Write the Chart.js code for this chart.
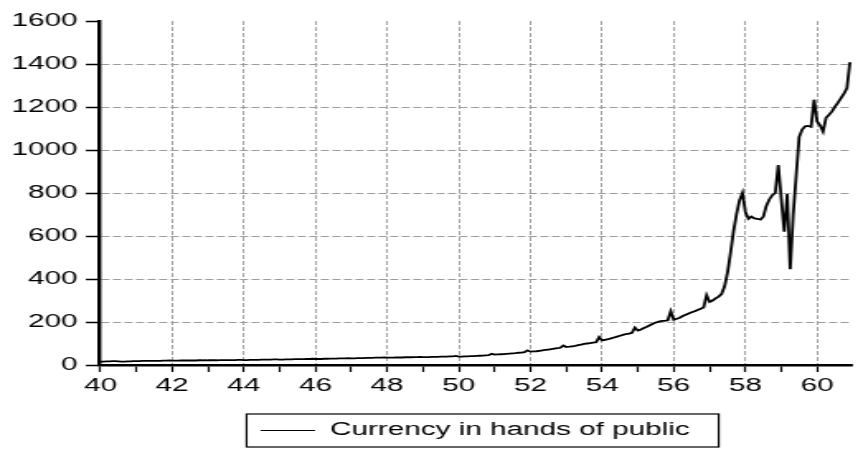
<!DOCTYPE html>
<html>
<head>
<meta charset="utf-8">
<script src="https://cdn.jsdelivr.net/npm/chart.js@4/dist/chart.umd.min.js"></script>
<style>
  html, body { margin: 0; padding: 0; background: #fff; overflow: hidden; }
  #wrap { width: 520px; height: 452px; transform: scaleX(1.65); transform-origin: 0 0; }
</style>
</head>
<body>
<div id="wrap"><canvas id="c" width="520" height="452"></canvas></div>
<script>
// Monthly observations, 1340M01 .. 1360M12
const seriesName = 'Currency in hands of public';
const firstYear = 40;
const currency = [
  16,16,17,17,18,18,17,16,16,17,17,18,            // 1340
  18,18,19,19,19,19,19,19,19,20,20,21,            // 1341
  20,20,20,21,21,21,21,21,21,22,22,23,            // 1342
  22,22,22,22,23,23,23,23,23,23,24,24,            // 1343
  23,23,24,24,24,24,25,25,25,25,26,26,            // 1344
  25,25,26,26,26,27,27,27,27,28,28,29,            // 1345
  28,28,28,29,29,30,30,30,31,31,31,32,            // 1346
  31,31,32,32,32,33,33,33,34,34,34,35,            // 1347
  34,34,34,35,35,35,36,36,36,37,37,38,            // 1348
  37,37,37,38,38,38,39,39,39,40,40,42,            // 1349
  39,39,40,40,41,41,42,43,44,45,46,52,            // 1350
  48,49,50,51,52,53,54,55,57,58,60,68,            // 1351
  62,63,64,66,68,70,72,74,76,78,80,91,            // 1352
  84,85,87,89,92,95,98,100,102,104,106,130,       // 1353
  114,117,120,124,128,132,136,140,144,146,150,174,// 1354
  160,165,172,178,185,192,198,202,205,205,208,250,// 1355
  210,215,220,228,234,240,245,250,256,262,268,325,// 1356
  293,300,310,318,330,365,430,520,620,700,765,800,// 1357
  712,680,690,682,680,676,690,740,770,790,800,930,// 1358
  775,620,795,445,700,880,1060,1095,1110,1112,1108,1234, // 1359
  1133,1115,1086,1150,1164,1180,1202,1220,1241,1262,1288,1408 // 1360
];
const xTickYears = [40,41,42,43,44,45,46,47,48,49,50,51,52,53,54,55,56,57,58,59,60];
const xTickLabels = ['40','','42','','44','','46','','48','','50','','52','','54','','56','','58','','60'];
const yTicks = [0,200,400,600,800,1000,1200,1400,1600];

const FONT = { family: "'Liberation Sans', Arial, sans-serif", size: 18 };

const legendFrame = {
  id: 'legendFrame',
  afterDraw(chart) {
    const lg = chart.legend;
    if (!lg || !lg.legendHitBoxes || !lg.legendHitBoxes.length) return;
    const hb = lg.legendHitBoxes[0];
    const ctx = chart.ctx;
    const cy = hb.top + hb.height / 2;
    ctx.save();
    ctx.strokeStyle = '#000';
    ctx.lineWidth = 1.2;
    ctx.strokeRect(hb.left - 8.5, cy - 16.5, hb.width + 26, 33);
    ctx.restore();
  }
};

new Chart(document.getElementById('c'), {
  type: 'line',
  data: {
    datasets: [{
      label: seriesName,
      data: currency.map((v, i) => ({ x: i, y: v })),
      borderColor: '#000',
      backgroundColor: '#000',
      borderWidth: 1.8,
      pointRadius: 0,
      tension: 0,
      fill: false
    }]
  },
  options: {
    responsive: false,
    animation: false,
    events: [],
    layout: { padding: { top: 21, right: 4, bottom: 2.5, left: 0 } },
    plugins: {
      tooltip: { enabled: false },
      legend: {
        position: 'bottom',
        fullSize: false,
        labels: {
          usePointStyle: true,
          pointStyle: 'line',
          pointStyleWidth: 33,
          padding: 21.9,
          color: '#000',
          font: FONT,
          generateLabels(chart) {
            const items = Chart.defaults.plugins.legend.labels.generateLabels(chart);
            items.forEach(it => { it.lineWidth = 1; it.strokeStyle = '#000'; it.pointStyle = 'line'; });
            return items;
          }
        }
      }
    },
    scales: {
      x: {
        type: 'linear',
        min: -0.5,
        max: currency.length - 0.5,
        afterBuildTicks(scale) {
          scale.ticks = xTickYears.map(y => ({ value: (y - firstYear) * 12 }));
        },
        ticks: {
          autoSkip: false,
          maxRotation: 0,
          padding: 3,
          color: '#000',
          font: FONT,
          callback(value) {
            const idx = xTickYears.indexOf(firstYear + value / 12);
            return idx >= 0 ? xTickLabels[idx] : '';
          }
        },
        grid: {
          color(ctx) {
            const yr = firstYear + ctx.tick.value / 12;
            return (yr % 2 === 0 && yr !== firstYear) ? '#8c8c8c' : 'rgba(0,0,0,0)';
          },
          lineWidth: 0.8,
          tickLength: 7,
          tickWidth: 1.2,
          tickColor: '#000'
        },
        border: { display: true, color: '#000', width: 2.5, dash: [4, 2] }
      },
      y: {
        min: 0,
        max: 1600,
        afterBuildTicks(scale) {
          scale.ticks = yTicks.map(v => ({ value: v }));
        },
        afterFit(scale) { scale.width = 60; },
        ticks: {
          padding: 5,
          color: '#000',
          font: FONT,
          callback(value) { return String(value); }
        },
        grid: {
          color(ctx) {
            const v = ctx.tick.value;
            return (v === 0 || v === 1600) ? 'rgba(0,0,0,0)' : '#9c9c9c';
          },
          lineWidth: 1,
          tickLength: 8,
          tickWidth: 1.5,
          tickColor: '#000'
        },
        border: { display: true, color: '#000', width: 2.4, dash: [5, 2] }
      }
    }
  },
  plugins: [legendFrame]
});
</script>
</body>
</html>
